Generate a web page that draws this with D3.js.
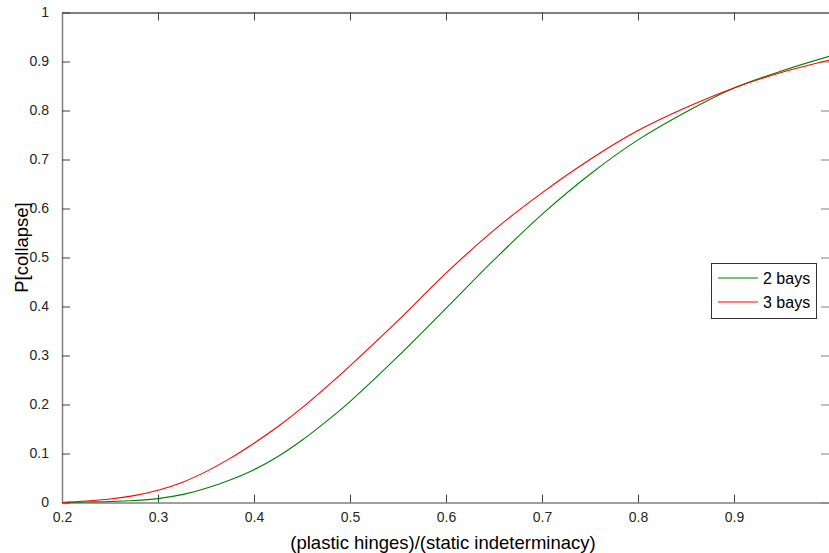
<!DOCTYPE html>
<html><head><meta charset="utf-8">
<script src="https://cdn.jsdelivr.net/npm/d3@7"></script>
<style>body{margin:0;background:#fff;}svg{display:block;font-family:"Liberation Sans",Arial,sans-serif;}</style>
</head><body>
<svg id="c" width="829" height="553"></svg>
<script>
const xValues = [0.2,0.225,0.25,0.275,0.3,0.325,0.35,0.375,0.4,0.425,0.45,0.475,0.5,0.55,0.6,0.65,0.7,0.75,0.8,0.85,0.9,0.95,1.0];
const bays2 = [0,0.001,0.002,0.004,0.008,0.016,0.029,0.046,0.067,0.094,0.127,0.165,0.206,0.298,0.396,0.495,0.588,0.670,0.740,0.797,0.846,0.881,0.911];
const bays3 = [0,0.003,0.007,0.014,0.025,0.041,0.063,0.090,0.121,0.155,0.193,0.235,0.279,0.371,0.468,0.556,0.632,0.700,0.759,0.806,0.846,0.878,0.903];
const xTicks = [0.2,0.3,0.4,0.5,0.6,0.7,0.8,0.9];
const yTicks = [0,0.1,0.2,0.3,0.4,0.5,0.6,0.7,0.8,0.9,1];
const seriesNames = ["2 bays","3 bays"];
const seriesColors = ["#008000","#ff0000"];

const svg = d3.select("#c");
const L=62, R=830, T=12.5, B=502.5;
const x = d3.scaleLinear().domain([0.2,1.0]).range([L,R]);
const y = d3.scaleLinear().domain([0,1]).range([B,T]);

const tl = 8;
const fmt = d => d===0?"0":d===1?"1":String(d);
const gb = svg.append("g").attr("transform",`translate(0,${B})`)
  .call(d3.axisBottom(x).tickValues(xTicks).tickSizeInner(-tl).tickSizeOuter(0).tickPadding(10).tickFormat(fmt));
gb.select(".domain").attr("stroke","#404040");
gb.selectAll(".tick line").attr("stroke","#404040");
gb.selectAll("text").attr("font-size","14px").attr("fill","#262626").attr("font-family","Liberation Sans, Arial, sans-serif");
const gt = svg.append("g").attr("transform",`translate(0,${T})`)
  .call(d3.axisTop(x).tickValues(xTicks).tickSizeInner(-tl).tickSizeOuter(0).tickFormat(""));
gt.select(".domain").attr("stroke","#000");
gt.selectAll(".tick line").attr("stroke","#404040");
const gl = svg.append("g").attr("transform",`translate(${L},0)`)
  .call(d3.axisLeft(y).tickValues(yTicks).tickSizeInner(-tl).tickSizeOuter(0).tickPadding(13).tickFormat(fmt));
gl.select(".domain").attr("stroke","#808080").attr("stroke-width",1.5);
gl.selectAll(".tick line").attr("stroke","#404040");
gl.selectAll("text").attr("font-size","14px").attr("fill","#262626").attr("font-family","Liberation Sans, Arial, sans-serif");
const gr = svg.append("g").attr("transform",`translate(${R-1},0)`)
  .call(d3.axisRight(y).tickValues(yTicks).tickSizeInner(-tl).tickSizeOuter(0).tickFormat(""));
gr.select(".domain").attr("stroke","#404040");
gr.selectAll(".tick line").attr("stroke","#808080");

const series = [bays2, bays3];
const line = d3.line().x((d,i)=>x(xValues[i])).y(d=>y(d)).curve(d3.curveCatmullRom.alpha(0.5));
series.forEach((s,k)=>{
  svg.append("path").datum(s).attr("d",line).attr("fill","none")
    .attr("stroke",seriesColors[k]).attr("stroke-width",1.1);
});

svg.append("text").attr("x",(L+R)/2-3).attr("y",549).attr("text-anchor","middle")
  .attr("font-size","18.5px").attr("fill","#000").text("(plastic hinges)/(static indeterminacy)");
svg.append("text").attr("transform",`translate(28,${(T+B)/2-10}) rotate(-90)`).attr("text-anchor","middle")
  .attr("font-size","18.5px").attr("fill","#000").text("P[collapse]");

const lg = svg.append("g");
lg.append("rect").attr("x",711.5).attr("y",263.5).attr("width",105).attr("height",55)
  .attr("fill","#fff").attr("stroke","#333").attr("stroke-width",1);
seriesNames.forEach((n,k)=>{
  const yy = 278 + k*24;
  lg.append("line").attr("x1",718).attr("x2",758).attr("y1",yy).attr("y2",yy).attr("stroke",seriesColors[k]).attr("stroke-width",1.1);
  lg.append("text").attr("x",763).attr("y",yy+6).attr("font-size","16px").attr("fill","#000").text(n);
});
</script>
</body></html>
